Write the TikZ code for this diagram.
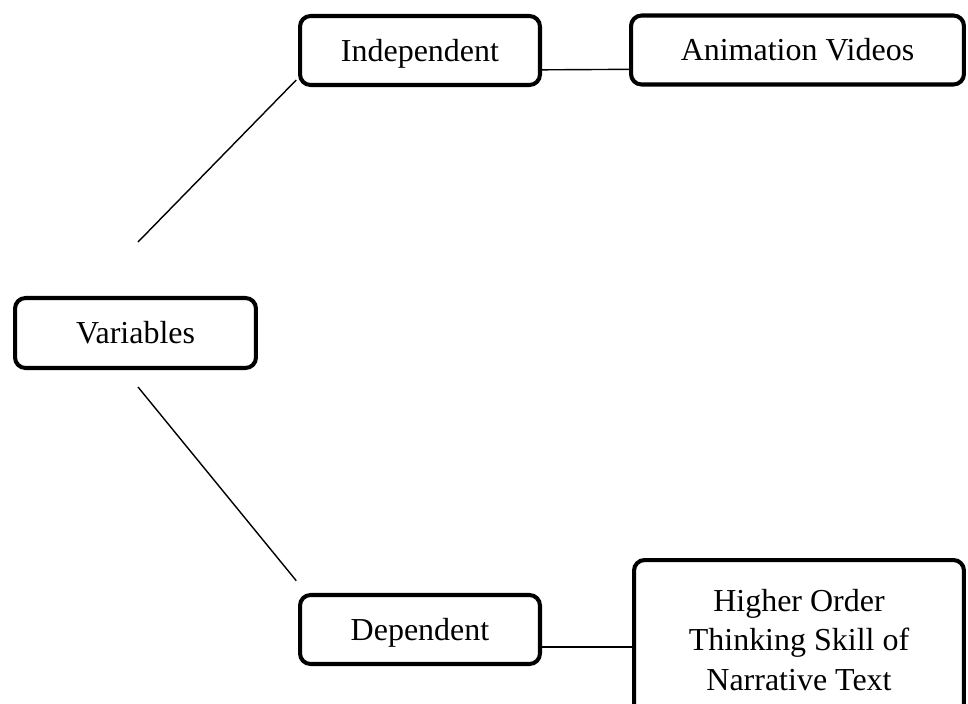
\documentclass[tikz,border=0pt]{standalone}
\usepackage{fontspec}
\setmainfont{Liberation Serif}
\begin{document}
\begin{tikzpicture}[x=0.02cm,y=-0.02cm,font=\fontsize{18.2}{22.6}\selectfont,
  box/.style={draw,line width=2.3pt,rounded corners=6pt,align=center,inner sep=0pt},
  onebox/.style={box,text height=12.4pt,text depth=0pt},
  link/.style={line width=0.8pt}]
 \useasboundingbox (0,0) rectangle (968,704);
 \node[onebox,minimum width=4.82cm,minimum height=1.4cm] (var) at (135.5,333) {Variables};
 \node[onebox,minimum width=4.8cm,minimum height=1.38cm] (indep) at (420,50.5) {Independent};
 \node[onebox,minimum width=6.66cm,minimum height=1.38cm] (anim) at (797.5,50) {Animation Videos};
 \node[onebox,minimum width=4.8cm,minimum height=1.38cm] (dep) at (420,629.5) {Dependent};
 \node[box,minimum width=6.6cm,minimum height=3.2cm] (hots) at (799,640) {Higher Order\\Thinking Skill of\\Narrative Text};
 \coordinate (vtop) at (138,242);
 \coordinate (vbot) at (138,387);
 \coordinate (dlink) at ([yshift=-10pt]dep.east);
 \draw[link] (vtop) -- ([xshift=-1pt,yshift=4pt]indep.south west);
 \draw[link] (vbot) -- ([xshift=-1pt,yshift=7pt]dep.north west);
 \draw[link] ([yshift=-11pt]indep.east) -- ([yshift=-11pt]anim.west);
 \draw[link] (dlink) -- (dlink -| hots.west);
\end{tikzpicture}
\end{document}
